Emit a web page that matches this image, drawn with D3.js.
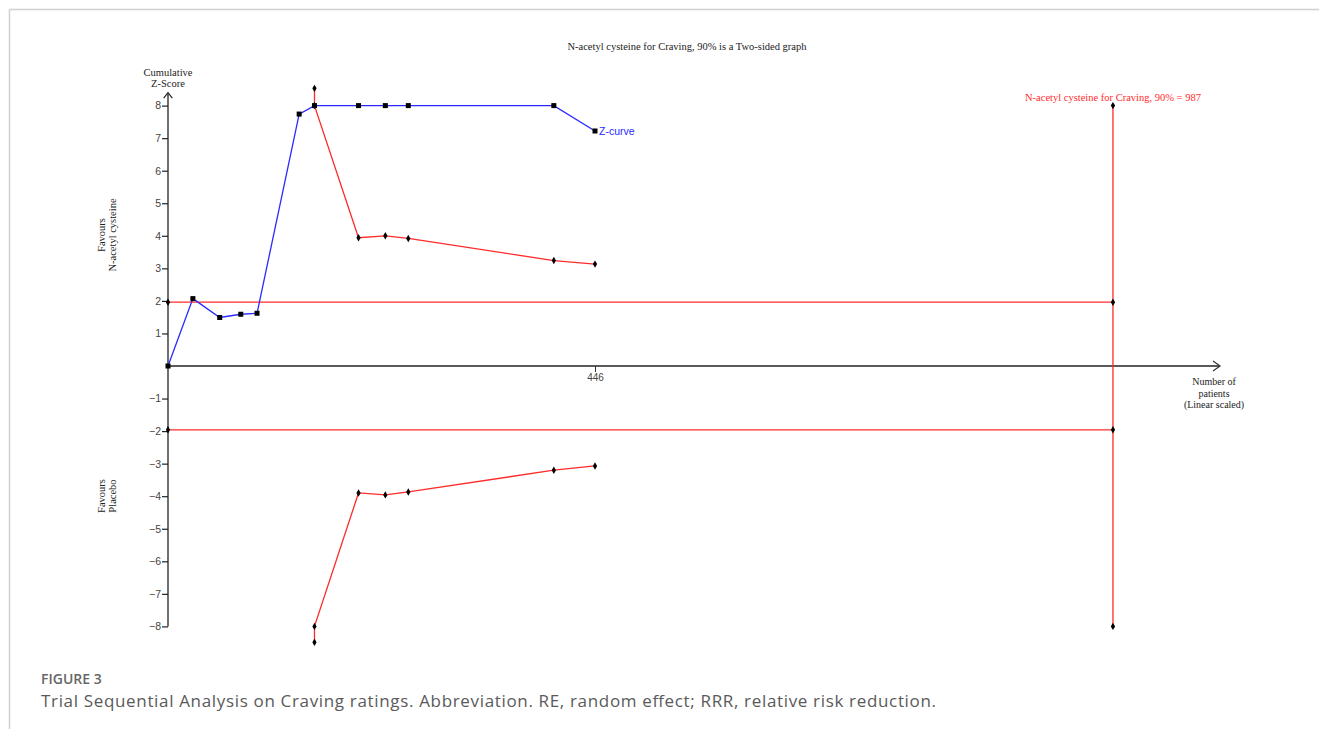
<!DOCTYPE html>
<html><head><meta charset="utf-8">
<script src="https://cdn.jsdelivr.net/npm/d3@7/dist/d3.min.js"></script>
<style>
html,body{margin:0;padding:0;background:#fff;}
svg{display:block;}
</style></head>
<body>
<svg id="chart" width="1319" height="729"></svg>
<script>
// ---- Data ----
const zPatients = [0, 26, 54, 76, 93, 137, 153, 199, 227, 251, 403, 446];
const zValues   = [0, 2.07, 1.49, 1.59, 1.62, 7.74, 8, 8, 8, 8, 8, 7.22];
const upperPatients = [153, 153, 199, 227, 251, 403, 446];
const upperValues   = [8.53, 8, 3.94, 4.00, 3.92, 3.24, 3.13];
const lowerPatients = [153, 153, 199, 227, 251, 403, 446];
const lowerValues   = [-8.49, -8, -3.90, -3.96, -3.87, -3.20, -3.07];
const conventional = 1.96;
const requiredSize = 987;
const yTickValues = [-8, -7, -6, -5, -4, -3, -2, -1, 1, 2, 3, 4, 5, 6, 7, 8];
const xTickValues = [446];
const titleText = "N-acetyl cysteine for Craving, 90% is a Two-sided graph";
const risLabel = "N-acetyl cysteine for Craving, 90% = 987";

const svg = d3.select("#chart");
const x = d3.scaleLinear().domain([0, 446]).range([168, 595]);
const y = d3.scaleLinear().domain([-8, 8]).range([626.4, 105.6]);

// frame
svg.append("line").attr("x1", 9.5).attr("x2", 1319).attr("y1", 9.5).attr("y2", 9.5)
  .attr("stroke", "#d0d0d0").attr("stroke-width", 1.5);
svg.append("line").attr("x1", 9.5).attr("x2", 9.5).attr("y1", 9.5).attr("y2", 729)
  .attr("stroke", "#d0d0d0").attr("stroke-width", 1.5);

const serif = "'Liberation Serif','Times New Roman',serif";
const sans = "'Liberation Sans',Arial,sans-serif";

// title
svg.append("text").attr("x", 687).attr("y", 50).attr("text-anchor", "middle")
  .attr("font-family", serif).attr("font-size", 10.5).attr("fill", "#222").text(titleText);

// x axis line + arrow
const xAxisEnd = 1220;
svg.append("line").attr("x1", x(0)).attr("x2", xAxisEnd).attr("y1", y(0)).attr("y2", y(0))
  .attr("stroke", "#5a5a5a").attr("stroke-width", 2);
svg.append("path").attr("d", `M${xAxisEnd - 7},${y(0) - 5}L${xAxisEnd},${y(0)}L${xAxisEnd - 7},${y(0) + 5}`)
  .attr("fill", "none").attr("stroke", "#333").attr("stroke-width", 1.2);
const xAxis = d3.axisBottom(x).tickValues(xTickValues).tickSize(6).tickSizeOuter(0);
const gx = svg.append("g").attr("transform", `translate(0,${y(0)})`).call(xAxis);
gx.select(".domain").remove();
gx.selectAll(".tick line").attr("stroke", "#333");
gx.selectAll(".tick text").attr("font-family", sans).attr("font-size", 10).attr("fill", "#444").attr("dy", "0.6em");

["Number of", "patients", "(Linear scaled)"].forEach((t, i) => {
  svg.append("text").attr("x", 1214).attr("y", 385 + i * 11.5).attr("text-anchor", "middle")
    .attr("font-family", serif).attr("font-size", 10).attr("fill", "#222").text(t);
});

// y axis
const yArrowTop = 92.7;
svg.append("line").attr("x1", x(0)).attr("x2", x(0)).attr("y1", y(-8)).attr("y2", yArrowTop)
  .attr("stroke", "#222").attr("stroke-width", 1.3);
svg.append("path").attr("d", `M${x(0) - 4.3},${yArrowTop + 5.5}L${x(0)},${yArrowTop}L${x(0) + 4.3},${yArrowTop + 5.5}`)
  .attr("fill", "none").attr("stroke", "#222").attr("stroke-width", 1.2);
const yAxis = d3.axisLeft(y).tickValues(yTickValues).tickSize(6).tickSizeOuter(0);
const gy = svg.append("g").attr("transform", `translate(${x(0)},0)`).call(yAxis);
gy.select(".domain").remove();
gy.selectAll(".tick line").attr("stroke", "#222").attr("stroke-width", 1.2);
gy.selectAll(".tick text").attr("font-family", sans).attr("font-size", 10.5).attr("fill", "#444").attr("x", -7);

["Cumulative", "Z-Score"].forEach((t, i) => {
  svg.append("text").attr("x", x(0)).attr("y", 75.5 + i * 11.5).attr("text-anchor", "middle")
    .attr("font-family", serif).attr("font-size", 10.5).attr("fill", "#222").text(t);
});

// rotated favour labels
function favour(lines, cx, cy) {
  const g = svg.append("g").attr("transform", `translate(${cx},${cy}) rotate(-90)`);
  lines.forEach((t, i) => {
    g.append("text").attr("x", 0).attr("y", i * 11.5).attr("text-anchor", "middle")
      .attr("font-family", serif).attr("font-size", 10.5).attr("fill", "#222").text(t);
  });
}
favour(["Favours", "N-acetyl cysteine"], 104.5, 235);
favour(["Favours", "Placebo"], 104.5, 496);

const red = "#ff2b2b";
const line = d3.line().x(d => x(d[0])).y(d => y(d[1]));

// conventional boundaries
[conventional, -conventional].forEach(v => {
  svg.append("line").attr("x1", x(0)).attr("x2", x(requiredSize)).attr("y1", y(v)).attr("y2", y(v))
    .attr("stroke", red).attr("stroke-width", 1.2);
});
// required information size vertical
svg.append("line").attr("x1", x(requiredSize)).attr("x2", x(requiredSize)).attr("y1", y(8)).attr("y2", y(-8))
  .attr("stroke", red).attr("stroke-width", 1.3);
svg.append("text").attr("x", x(requiredSize)).attr("y", 101).attr("text-anchor", "middle")
  .attr("font-family", serif).attr("font-size", 10.5).attr("fill", red).text(risLabel);

// monitoring boundaries
const upper = upperPatients.map((p, i) => [p, upperValues[i]]);
const lower = lowerPatients.map((p, i) => [p, lowerValues[i]]);
[upper, lower].forEach(b => {
  svg.append("path").attr("d", line(b)).attr("fill", "none").attr("stroke", red).attr("stroke-width", 1.3);
});

// z-curve
const zc = zPatients.map((p, i) => [p, zValues[i]]);
svg.append("path").attr("d", line(zc)).attr("fill", "none").attr("stroke", "#2a2aff").attr("stroke-width", 1.3);

// boundary dots
const dotSym = d3.symbol().type(d3.symbolDiamond).size(16);
const dots = upper.concat(lower).concat([
  [0, conventional], [0, -conventional],
  [requiredSize, conventional], [requiredSize, -conventional],
  [requiredSize, 8], [requiredSize, -8]
]);
svg.append("g").selectAll("path").data(dots).join("path")
  .attr("d", dotSym).attr("transform", d => `translate(${x(d[0])},${y(d[1])})`).attr("fill", "#000");

// z-curve squares
svg.append("g").selectAll("rect").data(zc).join("rect")
  .attr("x", d => x(d[0]) - 2.5).attr("y", d => y(d[1]) - 2.5)
  .attr("width", 5).attr("height", 5).attr("fill", "#000");

const last = zc[zc.length - 1];
svg.append("text").attr("x", x(last[0]) + 4).attr("y", y(last[1]) + 4)
  .attr("font-family", sans).attr("font-size", 10.5).attr("fill", "#2a2aff").text("Z-curve");

// caption
svg.append("text").attr("x", 41).attr("y", 684).attr("font-family", "'Open Sans',sans-serif")
  .attr("font-size", 14).attr("font-weight", 600).attr("fill", "#666").text("FIGURE 3");
svg.append("text").attr("x", 41).attr("y", 706.5).attr("font-family", "'Open Sans',sans-serif")
  .attr("font-size", 17).attr("fill", "#5a5a5a")
  .attr("textLength", 895).attr("lengthAdjust", "spacing")
  .text("Trial Sequential Analysis on Craving ratings. Abbreviation. RE, random effect; RRR, relative risk reduction.");
</script>
</body></html>
